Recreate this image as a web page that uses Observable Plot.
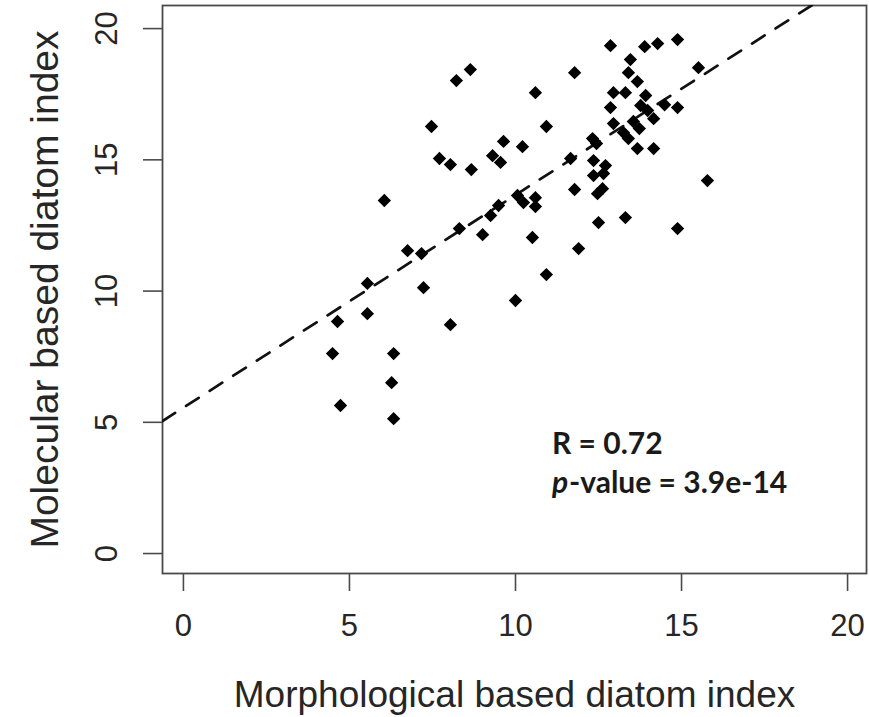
<!DOCTYPE html>
<html>
<head>
<meta charset="utf-8">
<script src="https://cdn.jsdelivr.net/npm/d3@7"></script>
<script src="https://cdn.jsdelivr.net/npm/@observablehq/plot@0.6"></script>
<style>
  html, body { margin: 0; padding: 0; background: #ffffff; }
  #chart svg { display: block; }
</style>
</head>
<body>
<div id="chart"></div>
<script>
// Morphological based diatom index (x) vs Molecular based diatom index (y)
const morphIndex = [
  4.49, 4.64, 4.73, 5.54, 5.54, 6.05, 6.33, 6.27, 6.33, 6.75,
  7.17, 7.23, 7.47, 7.71, 8.04, 8.04, 8.22, 8.64, 8.67, 8.31,
  9.01, 9.25, 9.49, 9.31, 9.55, 9.64, 10.21, 10.0, 10.06, 10.24,
  10.6, 10.6, 10.51, 10.93, 10.93, 10.6, 11.78, 11.66, 11.78, 11.9,
  12.32, 12.44, 12.35, 12.71, 12.35, 12.65, 12.62, 12.47, 12.5, 13.31,
  12.86, 13.46, 13.89, 14.28, 14.88, 15.51, 13.4, 13.67, 12.95, 13.31,
  13.92, 13.77, 13.98, 12.86, 14.49, 14.88, 14.16, 12.95, 13.25, 13.4,
  13.55, 13.73, 13.67, 14.16, 15.78, 14.88
];
const molecIndex = [
  7.62, 8.84, 5.64, 10.29, 9.14, 13.45, 7.62, 6.51, 5.14, 11.54,
  11.43, 10.13, 16.27, 15.05, 14.82, 8.72, 18.02, 18.44, 14.63, 12.38,
  12.15, 12.88, 13.26, 15.16, 14.9, 15.7, 15.5, 9.64, 13.64, 13.37,
  13.56, 13.22, 12.04, 10.63, 16.27, 17.56, 18.32, 15.05, 13.87, 11.62,
  15.81, 15.62, 14.97, 14.78, 14.4, 14.48, 13.9, 13.71, 12.61, 12.8,
  19.35, 18.82, 19.31, 19.43, 19.58, 18.51, 18.32, 17.98, 17.56, 17.56,
  17.45, 17.07, 16.88, 16.99, 17.1, 16.99, 16.57, 16.38, 16.04, 15.81,
  16.46, 16.19, 15.43, 15.43, 14.21, 12.38
];
const xTicks = [0, 5, 10, 15, 20];
const yTicks = [0, 5, 10, 15, 20];
const xLabel = "Morphological based diatom index";
const yLabel = "Molecular based diatom index";
const fitIntercept = 5.56;
const fitSlope = 0.81;
const statR = "R = 0.72";
const statP = "p";
const statPRest = "-value = 3.9e-14";

const xDomain = [-0.63, 20.57];
const yDomain = [-0.76, 20.88];

const points = morphIndex.map((x, i) => ({x, y: molecIndex[i]}));
const fitLine = xDomain.map(x => ({x, y: fitIntercept + fitSlope * x}));

const axisColor = "#4a4a4a";
const textColor = "#262626";
const statFont = "Lato, 'Liberation Sans', sans-serif";

const chart = Plot.plot({
  width: 869,
  height: 717,
  marginLeft: 162,
  marginRight: 3,
  marginTop: 5,
  marginBottom: 144,
  x: {domain: xDomain},
  y: {domain: yDomain},
  style: {fontFamily: "'Liberation Sans', Arial, sans-serif", color: textColor, background: "#ffffff", overflow: "visible"},
  marks: [
    Plot.axisX({ticks: xTicks, tickSize: 18, tickPadding: 22, fontSize: 31, label: null, stroke: axisColor, strokeWidth: 1.6, color: textColor}),
    Plot.axisY({ticks: yTicks, tickSize: 19, tickFormat: () => "", label: null, stroke: axisColor, strokeWidth: 1.6}),
    Plot.text(yTicks, {y: d => d, frameAnchor: "left", text: d => String(d), rotate: -90, dx: -55,
      textAnchor: "middle", lineAnchor: "middle", fontSize: 31, fill: textColor}),
    Plot.frame({stroke: axisColor, strokeWidth: 1.8}),
    Plot.line(fitLine, {x: "x", y: "y", stroke: "#111", strokeWidth: 2.7, strokeDasharray: "15,13", clip: true}),
    Plot.dot(points, {x: "x", y: "y", symbol: "diamond2", r: 6, fill: "#000", stroke: "none"}),
    Plot.text([xLabel], {frameAnchor: "bottom", text: d => d, dy: 122, lineAnchor: "middle", textAnchor: "middle", fontSize: 37, fill: textColor}),
    Plot.text([yLabel], {frameAnchor: "left", text: d => d, rotate: -90, dx: -117, lineAnchor: "middle", textAnchor: "middle", fontSize: 39, fill: textColor}),
    Plot.text([statR], {x: 11.1, y: 4.04, text: d => d, textAnchor: "start", lineAnchor: "bottom", fontSize: 30, fontWeight: "bold", fill: "#1a1a1a", fontFamily: statFont, dy: 6}),
    Plot.text([statP], {x: 11.1, y: 2.55, text: d => d, textAnchor: "start", lineAnchor: "bottom", fontSize: 30, fontWeight: "bold", fontStyle: "italic", fill: "#1a1a1a", fontFamily: statFont, dy: 6}),
    Plot.text([statPRest], {x: 11.1, y: 2.55, text: d => d, textAnchor: "start", lineAnchor: "bottom", fontSize: 30, fontWeight: "bold", fill: "#1a1a1a", fontFamily: statFont, dx: 17, dy: 6})
  ]
});
document.getElementById("chart").appendChild(chart);
</script>
</body>
</html>
